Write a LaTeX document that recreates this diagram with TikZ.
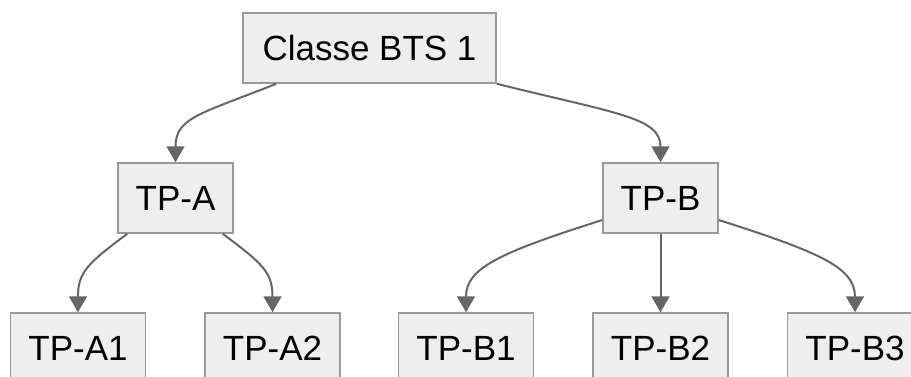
\documentclass[tikz,border=0pt]{standalone}
\usepackage{fontspec}
\setmainfont{Liberation Sans}
\usetikzlibrary{arrows.meta}
\definecolor{boxfill}{HTML}{EEEEEE}
\definecolor{boxdraw}{HTML}{999999}
\definecolor{edgecol}{HTML}{666666}
\begin{document}
\begin{tikzpicture}[x=1pt,y=-1pt,
  box/.style={draw=boxdraw, fill=boxfill, line width=1.5pt, minimum height=70pt, inner sep=0pt,
    font=\fontsize{35}{42}\selectfont, text=black},
  topbox/.style={box, minimum width=253pt},
  midbox/.style={box, minimum width=115pt},
  leafbox/.style={box, minimum width=135pt},
  edge/.style={draw=edgecol, line width=2pt, -{Triangle[length=16pt,width=18pt]}}]
\clip (0,0) rectangle (911,376);
\fill[white] (0,0) rectangle (911,376);
\node[topbox] (top) at (369.5,48) {Classe BTS 1};
\node[midbox] (tpa) at (175.5,198) {TP-A};
\node[midbox] (tpb) at (660.5,198) {TP-B};
\node[leafbox] (a1) at (78,348) {TP-A1};
\node[leafbox] (a2) at (272.5,348) {TP-A2};
\node[leafbox] (b1) at (466,348) {TP-B1};
\node[leafbox] (b2) at (660.5,348) {TP-B2};
\node[leafbox] (b3) at (855,348) {TP-B3};
\draw[edge] ([xshift=34pt]top.south west) .. controls +(-75,30) and +(0,-45) .. (tpa.north);
\draw[edge] (top.south east) .. controls +(120,30) and +(0,-45) .. (tpb.north);
\draw[edge] ([xshift=10pt]tpa.south west) .. controls +(-40,30) and +(0,-40) .. (a1.north);
\draw[edge] ([xshift=-11pt]tpa.south east) .. controls +(40,30) and +(0,-40) .. (a2.north);
\draw[edge] ([yshift=-22pt]tpb.west) .. controls +(-100,32) and +(0,-45) .. (b1.north);
\draw[edge] (tpb.south) -- (b2.north);
\draw[edge] ([yshift=-22pt]tpb.east) .. controls +(100,32) and +(0,-45) .. (b3.north);
\end{tikzpicture}
\end{document}
